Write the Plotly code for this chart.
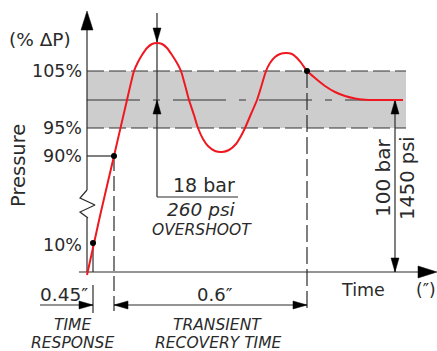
import plotly.graph_objects as go

# ---------------- data (diagram units: px-like, y grows downward) ----------------
curve_x = [87, 100, 114, 127, 134, 138, 142, 147, 152, 157, 162, 167, 172, 177, 181, 185, 189,
           194, 198, 203, 208, 215, 222, 229, 236, 241, 245, 251, 257, 262, 266, 270, 275, 280,
           286, 292, 297, 302, 307, 315, 325, 335, 345, 355, 365, 375, 403]
curve_y = [275, 216, 156, 100, 71, 62, 55, 48, 44, 43, 44, 48, 55, 63, 71, 85, 100,
           115, 128, 139, 146, 151, 152, 150, 144, 136, 128, 114, 100, 84, 71, 63, 57, 54,
           53, 54, 58, 64, 71, 78, 86, 92, 96, 98.5, 99.7, 100, 100]

point_x = [93, 114, 307]
point_y = [243, 156, 71]

band_x = [87, 406]
level_105 = 71
level_100 = 100
level_95 = 128
level_90 = 156
axis_y0 = 272
axis_x0 = 87

tick_labels = ["105%", "95%", "90%", "10%"]
tick_label_y = [71, 128, 156, 245]

zig_x = [87, 80, 95, 80, 88]
zig_y = [190, 198, 205, 212, 218]

INK = "#2a2a2a"
FONT = "DejaVu Sans"

fig = go.Figure()


def line(xs, ys, dash="solid", width=1.2, color=INK):
    fig.add_trace(go.Scatter(x=xs, y=ys, mode="lines", hoverinfo="skip",
                             line=dict(color=color, width=width, dash=dash)))


def arrow(tx, ty, direction, length=14, half=4):
    if direction == "up":
        xs = [tx, tx - half, tx + half, tx]; ys = [ty, ty + length, ty + length, ty]
    elif direction == "down":
        xs = [tx, tx - half, tx + half, tx]; ys = [ty, ty - length, ty - length, ty]
    elif direction == "right":
        xs = [tx, tx - length, tx - length, tx]; ys = [ty, ty - half, ty + half, ty]
    else:
        xs = [tx, tx + length, tx + length, tx]; ys = [ty, ty - half, ty + half, ty]
    fig.add_trace(go.Scatter(x=xs, y=ys, mode="lines", fill="toself", fillcolor="black",
                             line=dict(color="black", width=0.5), hoverinfo="skip"))


# gray tolerance band
fig.add_trace(go.Scatter(x=[band_x[0], band_x[1], band_x[1], band_x[0], band_x[0]],
                         y=[level_105, level_105, level_95, level_95, level_105],
                         mode="lines", fill="toself", fillcolor="#cdcdcd",
                         line=dict(width=0), hoverinfo="skip"))
line(band_x, [level_105, level_105], dash="17px,5px", color="#333")
line(band_x, [level_95, level_95], dash="17px,5px", color="#333")
line(band_x, [level_100, level_100], dash="53px,13px,7px,13px", color="#333")

# axes
line([axis_x0, axis_x0], [axis_y0, 28])
arrow(axis_x0, 11, "up", length=19, half=6)
line([79, 420], [axis_y0, axis_y0])
arrow(437, axis_y0, "right", length=19, half=6)

# axis break zigzag (white gap then zigzag)
line([axis_x0, axis_x0], [zig_y[0], zig_y[-1]], color="white", width=3)
line(zig_x, zig_y)

# 90% guide and 10% guide
line([axis_x0, point_x[1]], [level_90, level_90])
line([point_x[0], point_x[0]], [point_y[0], axis_y0])
line([point_x[0], point_x[0]], [285, 313])
line([point_x[1], point_x[1]], [level_90, 313], dash="15px,5px")
line([point_x[2], point_x[2]], [level_105, 313], dash="17px,5px")

# overshoot dimension
line([157, 157], [13, 197])
line([157, 238], [197, 197])
arrow(157, 42, "down")
arrow(157, 100, "up")

# 100 bar dimension
line([395, 395], [100, 272])
arrow(395, 100, "up")
arrow(395, 272, "down")

# time dimensions
line([40, 93], [305, 305])
arrow(93, 305, "right")
line([114, 307], [305, 305])
arrow(114, 305, "left")
arrow(307, 305, "right")

# response curve
fig.add_trace(go.Scatter(x=curve_x, y=curve_y, mode="lines", hoverinfo="skip",
                         line=dict(color="#f01820", width=2, shape="spline", smoothing=0.6)))
fig.add_trace(go.Scatter(x=point_x, y=point_y, mode="markers", hoverinfo="skip",
                         marker=dict(color="black", size=6)))

# texts
def txt(x, y, s, size=18, italic=False, xanchor="center", angle=0):
    fig.add_annotation(x=x, y=y, text=s, showarrow=False, xanchor=xanchor, yanchor="middle",
                       textangle=angle,
                       font=dict(family=FONT, size=size, color=INK,
                                 style="italic" if italic else "normal"))


for lab, yy in zip(tick_labels, tick_label_y):
    txt(84, yy, lab, size=17.5, xanchor="right")
txt(40, 39, "(% ΔP)", size=18.5)
txt(18, 166, "Pressure", size=19.5, angle=-90)
txt(204, 185, "18 bar", size=19)
txt(201, 209, "260 psi", size=18.5, italic=True)
txt(202, 230, "OVERSHOOT", size=15.5, italic=True)
txt(383, 178, "100 bar", size=20, angle=-90)
txt(407, 178, "1450 psi", size=19.5, angle=-90)
txt(363, 290, "Time", size=17.5)
txt(426, 290, "(″)", size=17)
txt(64, 294, "0.45″", size=18.5)
txt(215, 294, "0.6″", size=18)
txt(72, 325, "TIME", size=15.5, italic=True)
txt(72, 343, "RESPONSE", size=15.5, italic=True)
txt(217, 325, "TRANSIENT", size=15.5, italic=True)
txt(218, 343, "RECOVERY TIME", size=15.5, italic=True)

W, H = 437, 351
fig.update_layout(
    width=W, height=H, autosize=False,
    margin=dict(l=0, r=0, t=0, b=0),
    paper_bgcolor="white", plot_bgcolor="white",
    showlegend=False,
    hovermode=False,
    xaxis=dict(range=[0, W], visible=False, fixedrange=True),
    yaxis=dict(range=[H, 0], visible=False, fixedrange=True),
)

fig.write_html("out.html",
               config={"displayModeBar": False, "staticPlot": True},
               post_script="document.body.style.margin='0';document.body.style.overflow='hidden';")
